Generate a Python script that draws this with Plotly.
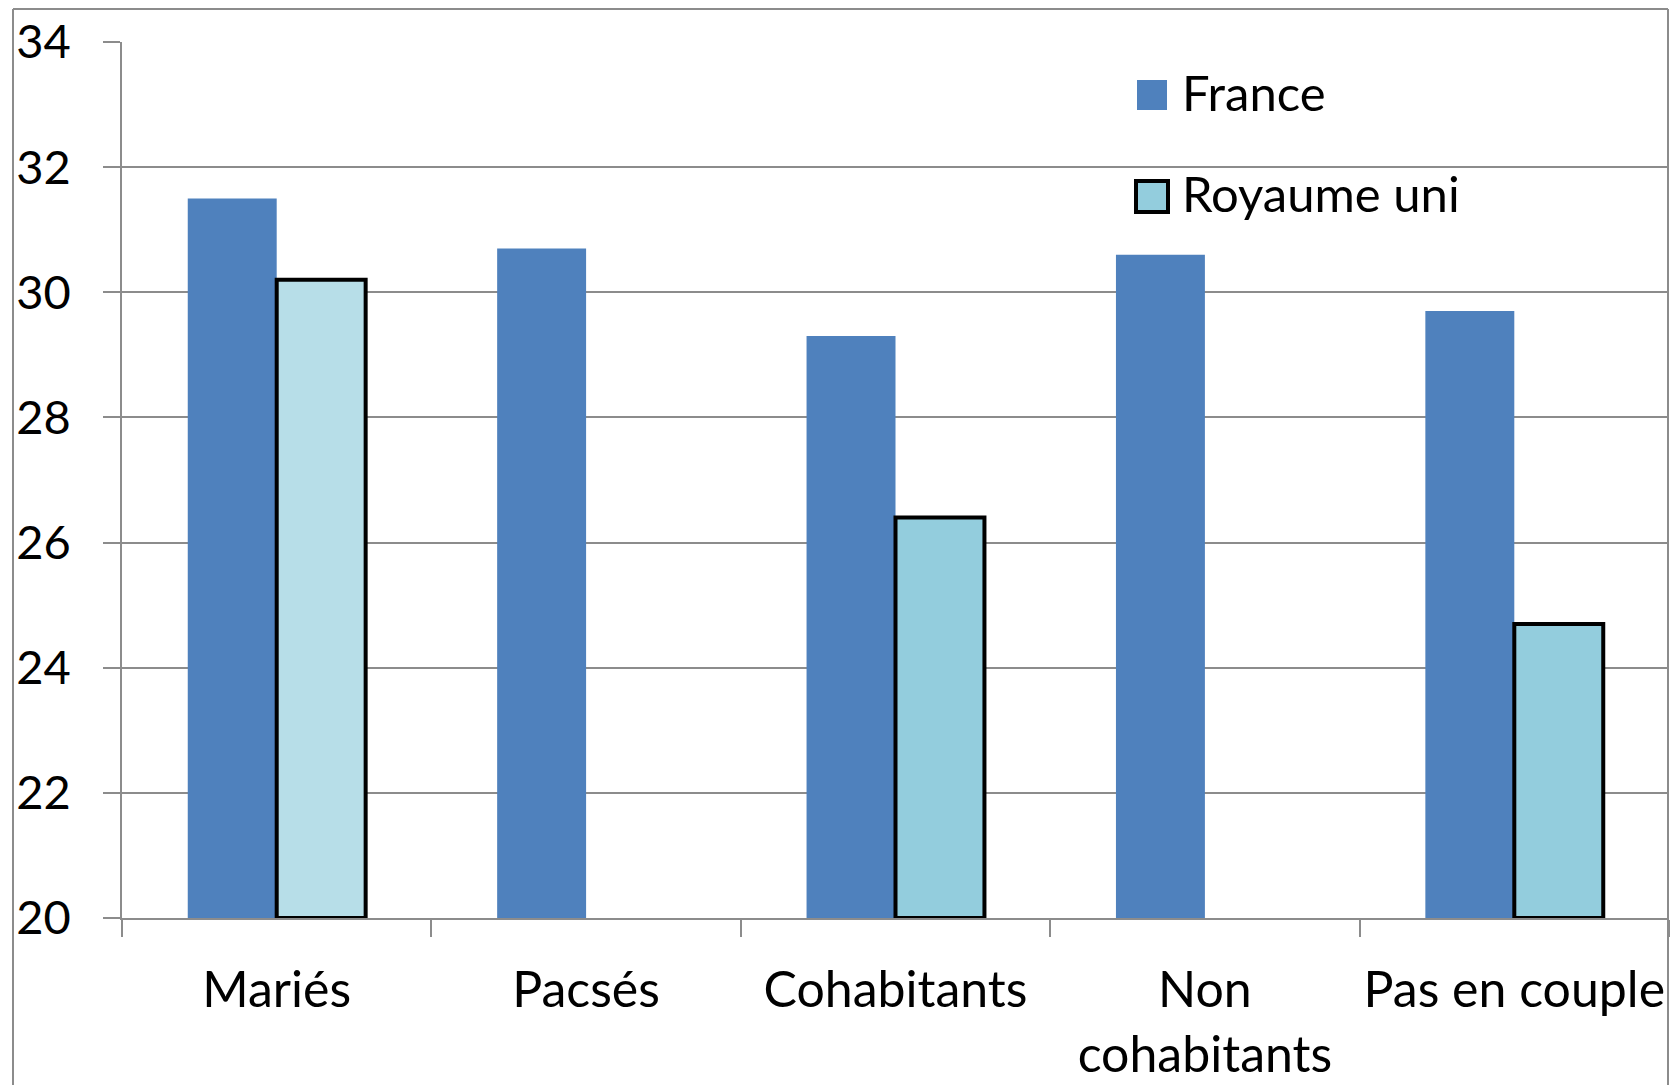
import plotly.graph_objects as go

# values
categories = ["Mariés", "Pacsés", "Cohabitants", "Non<br>cohabitants", "Pas en couple"]
france = [31.5, 30.7, 29.3, 30.6, 29.7]
royaume_uni = [30.2, None, 26.4, None, 24.7]
series_names = ["France", "Royaume uni"]
y_base = 20

france_color = "#4F81BD"
uk_colors = ["#B7DEE8", "#93CDDD", "#93CDDD", "#93CDDD", "#93CDDD"]
grid_color = "#8C8C8C"
font = "Lato"

W, H = 1671, 1085
L, R, T, B = 122, 2, 42, 167
pw, ph = W - L - R, H - T - B


def px(x):
    return (x - L) / pw


def py(y):
    return (H - B - y) / ph


fig = go.Figure()
fig.add_trace(go.Bar(
    name=series_names[0], x=categories, y=[v - y_base for v in france], base=y_base,
    marker=dict(color=france_color, line=dict(width=0)),
))
fig.add_trace(go.Bar(
    name=series_names[1], x=categories,
    y=[v - y_base if v is not None else None for v in royaume_uni], base=y_base,
    marker=dict(color=uk_colors, line=dict(color="black", width=4)),
))

fig.update_layout(
    width=W, height=H,
    margin=dict(l=L, r=R, t=T, b=B, autoexpand=False),
    paper_bgcolor="white", plot_bgcolor="white",
    barmode="group", bargap=0.425, bargroupgap=0,
    showlegend=False,
    font=dict(family=font, color="black"),
)
fig.update_xaxes(
    showline=True, linecolor=grid_color, linewidth=1.5,
    ticks="outside", tickson="boundaries", ticklen=17, tickcolor=grid_color, tickwidth=1.5,
    tickfont=dict(size=50), ticklabelstandoff=27, tickangle=0, automargin=False,
)
fig.update_yaxes(
    range=[20, 34], dtick=2, tick0=20,
    showline=True, linecolor=grid_color, linewidth=1.5,
    showgrid=True, gridcolor=grid_color, gridwidth=1.5, zeroline=False,
    ticks="outside", ticklen=17, tickcolor=grid_color, tickwidth=1.5,
    tickfont=dict(size=47), ticklabelstandoff=23, automargin=False,
)

# outer chart frame
frame = dict(type="line", xref="paper", yref="paper", line=dict(color="#8C8C8C", width=2))
fig.add_shape(x0=px(13), x1=px(13), y0=py(9), y1=py(1100), **frame)
fig.add_shape(x0=px(13), x1=px(1668), y0=py(9), y1=py(9), **frame)
fig.add_shape(x0=px(1668), x1=px(1668), y0=py(9), y1=py(1100), **frame)

# legend drawn by hand so the keys can be large
fig.add_shape(type="rect", xref="paper", yref="paper",
              x0=px(1137), x1=px(1167), y0=py(110), y1=py(80),
              fillcolor=france_color, line=dict(width=0))
fig.add_shape(type="rect", xref="paper", yref="paper",
              x0=px(1136), x1=px(1168), y0=py(212), y1=py(181),
              fillcolor=uk_colors[1], line=dict(color="black", width=4))
for name, yc in zip(series_names, [92, 193]):
    fig.add_annotation(text=name, xref="paper", yref="paper", x=px(1180), y=py(yc),
                       xanchor="left", yanchor="middle", showarrow=False,
                       font=dict(size=49, family=font, color="black"))

# drop the page's default body margin so the figure sits at the window corner
fig.write_html("out.html", config={"displayModeBar": False},
               post_script="document.body.style.margin='0';")
